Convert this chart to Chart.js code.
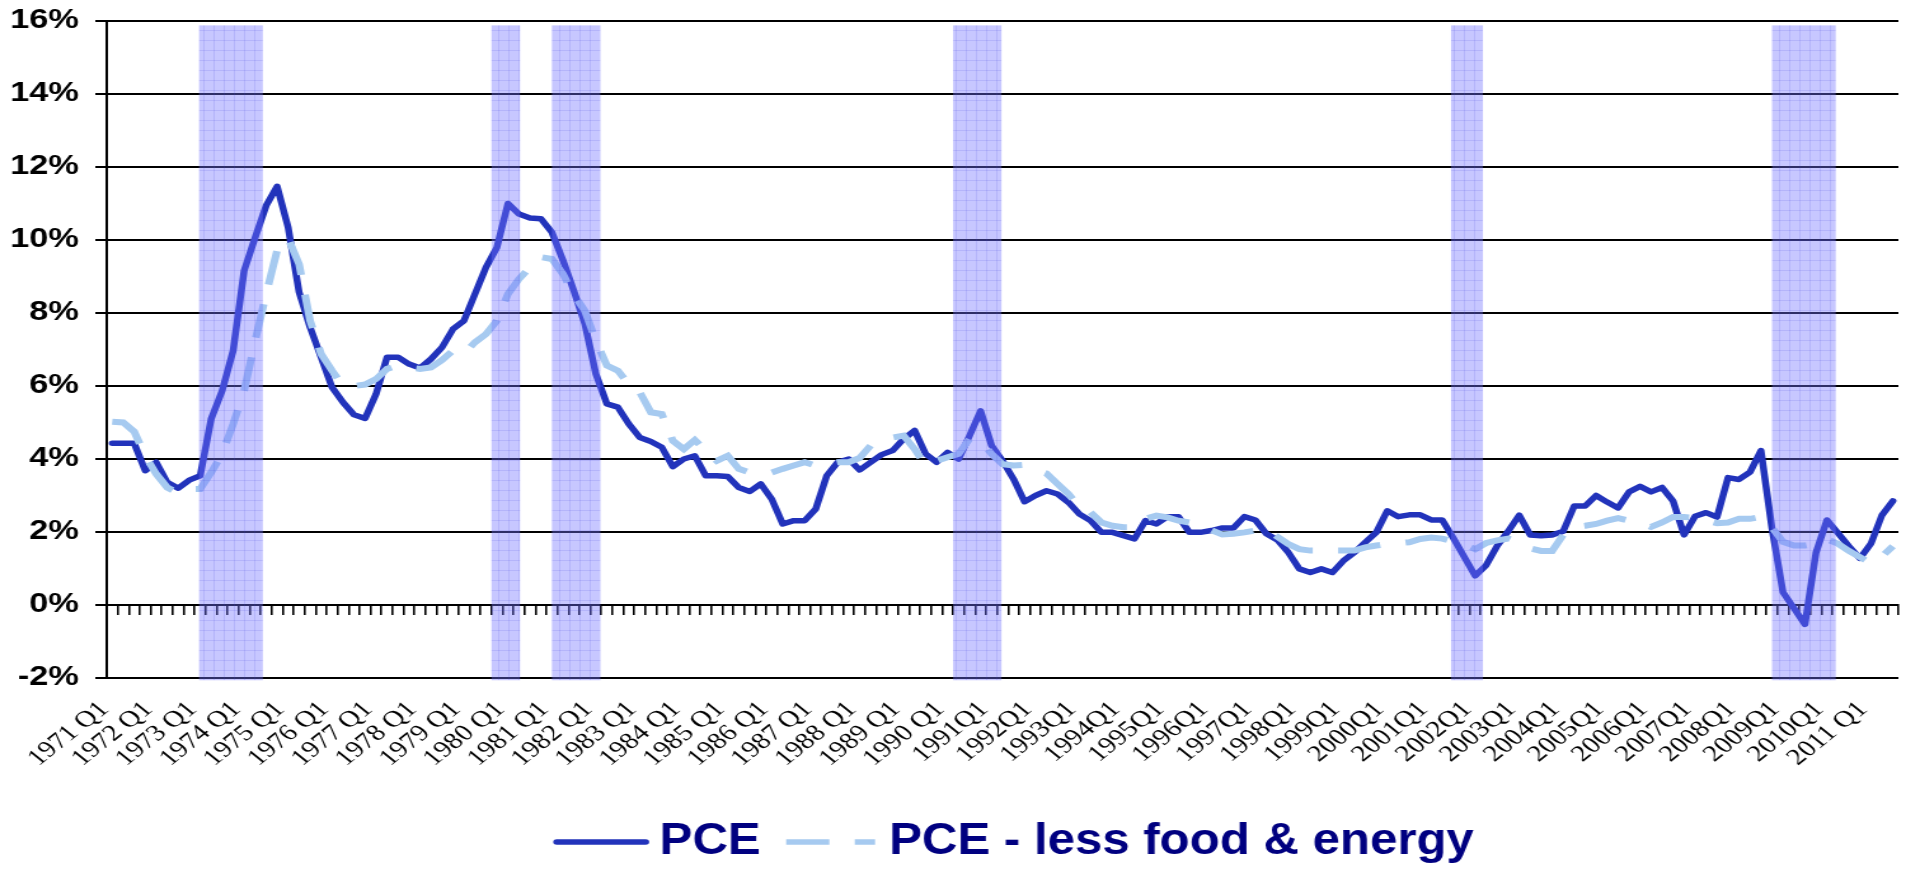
<!DOCTYPE html>
<html>
<head>
<meta charset="utf-8">
<title>PCE inflation</title>
<script src="https://cdn.jsdelivr.net/npm/chart.js@4.4.0/dist/chart.umd.min.js"></script>
<style>
  html, body { margin: 0; padding: 0; background: #fff; }
</style>
</head>
<body>
<!-- drawn on a narrower canvas and stretched to the page width, like the exported spreadsheet chart -->
<canvas id="pceChart" width="1500" height="870" style="width:1906px;height:870px;display:block"></canvas>
<script>
const firstYear = 1971;
const quarterCount = 163;

// one label per year, shown under each Q1
const tickLabels = [
  "1971 Q1", "1972 Q1", "1973 Q1", "1974 Q1", "1975 Q1", "1976 Q1", "1977 Q1",
  "1978 Q1", "1979 Q1", "1980 Q1", "1981 Q1", "1982 Q1", "1983 Q1", "1984 Q1",
  "1985 Q1", "1986 Q1", "1987 Q1", "1988 Q1", "1989 Q1", "1990 Q1", "1991Q1",
  "1992Q1", "1993Q1", "1994Q1", "1995Q1", "1996Q1", "1997Q1", "1998Q1",
  "1999Q1", "2000Q1", "2001Q1", "2002Q1", "2003Q1", "2004Q1", "2005Q1",
  "2006Q1", "2007Q1", "2008Q1", "2009Q1", "2010Q1", "2011 Q1"
];

// PCE, % change from a year earlier (1971 Q1 .. 2011 Q3)
const pce = [
  4.43, 4.43, 4.43, 3.68, 3.91, 3.36, 3.20, 3.42, 3.54, 5.10,
  5.87, 6.97, 9.16, 10.07, 10.94, 11.47, 10.35, 8.57, 7.61, 6.79,
  5.96, 5.55, 5.21, 5.11, 5.78, 6.79, 6.79, 6.60, 6.49, 6.74,
  7.06, 7.56, 7.79, 8.52, 9.25, 9.80, 11.00, 10.71, 10.60, 10.58,
  10.21, 9.45, 8.60, 7.70, 6.33, 5.51, 5.42, 4.96, 4.59, 4.48,
  4.32, 3.79, 4.00, 4.09, 3.54, 3.54, 3.52, 3.22, 3.11, 3.32,
  2.90, 2.22, 2.31, 2.31, 2.63, 3.54, 3.91, 4.00, 3.70, 3.91,
  4.12, 4.23, 4.55, 4.78, 4.14, 3.91, 4.18, 4.00, 4.64, 5.32,
  4.37, 3.95, 3.45, 2.83, 3.00, 3.13, 3.04, 2.81, 2.49, 2.31,
  1.99, 1.99, 1.90, 1.81, 2.31, 2.22, 2.42, 2.42, 1.99, 1.99,
  2.04, 2.11, 2.11, 2.42, 2.33, 1.95, 1.78, 1.44, 0.99, 0.89,
  0.99, 0.89, 1.21, 1.44, 1.72, 1.99, 2.58, 2.42, 2.47, 2.47,
  2.33, 2.33, 1.84, 1.32, 0.80, 1.09, 1.62, 2.02, 2.46, 1.92,
  1.90, 1.92, 2.02, 2.71, 2.71, 3.00, 2.82, 2.66, 3.10, 3.25,
  3.10, 3.22, 2.85, 1.92, 2.43, 2.53, 2.41, 3.49, 3.44, 3.64,
  4.23, 2.10, 0.35, -0.09, -0.53, 1.43, 2.33, 1.97, 1.61, 1.28,
  1.68, 2.46, 2.85
];

// PCE less food & energy
const pceCore = [
  5.02, 5.00, 4.75, 4.09, 3.59, 3.22, 3.07, 3.18, 3.18, 3.63,
  4.14, 4.96, 5.87, 7.24, 8.52, 9.71, 10.05, 9.34, 7.79, 6.88,
  6.42, 6.00, 6.00, 6.04, 6.19, 6.47, 6.56, 6.51, 6.47, 6.51,
  6.71, 6.97, 6.88, 7.20, 7.42, 7.79, 8.52, 8.93, 9.25, 9.53,
  9.48, 9.07, 8.50, 8.06, 7.24, 6.56, 6.42, 6.05, 5.83, 5.28,
  5.23, 4.50, 4.27, 4.52, 4.23, 3.95, 4.09, 3.73, 3.63, 3.63,
  3.63, 3.73, 3.82, 3.91, 3.82, 3.86, 3.91, 3.91, 4.03, 4.37,
  4.50, 4.59, 4.64, 4.27, 3.82, 3.95, 4.05, 4.14, 4.55, 4.50,
  4.14, 3.86, 3.82, 3.84, 3.70, 3.60, 3.32, 3.04, 2.68, 2.54,
  2.26, 2.17, 2.13, 2.13, 2.36, 2.45, 2.40, 2.31, 2.26, 2.22,
  2.05, 1.93, 1.95, 1.99, 2.04, 2.08, 1.87, 1.67, 1.53, 1.49,
  1.49, 1.49, 1.49, 1.49, 1.58, 1.63, 1.67, 1.69, 1.72, 1.81,
  1.85, 1.82, 1.74, 1.65, 1.53, 1.70, 1.77, 1.82, 1.71, 1.55,
  1.48, 1.48, 1.92, 2.14, 2.17, 2.22, 2.31, 2.38, 2.31, 2.26,
  2.14, 2.26, 2.41, 2.41, 2.39, 2.31, 2.24, 2.26, 2.36, 2.36,
  2.41, 2.12, 1.73, 1.63, 1.63, 1.68, 1.80, 1.68, 1.48, 1.31,
  1.14, 1.33, 1.61
];

// shaded recession periods, in quarters from the start of 1971
const recessionStart = [8.4, 35.0, 40.5, 77.0, 122.3, 151.5];
const recessionEnd = [14.2, 37.6, 44.9, 81.4, 125.2, 157.3];

const quarters = [];
for (let i = 0; i < quarterCount; i++) {
  quarters.push(firstYear + Math.floor(i / 4) + " Q" + ((i % 4) + 1));
}

function bandPattern(ctx) {
  const tile = document.createElement("canvas");
  tile.width = 8;
  tile.height = 10;
  const t = tile.getContext("2d");
  t.fillStyle = "rgba(115,115,255,0.40)";
  t.fillRect(0, 0, 8, 10);
  t.fillStyle = "rgba(70,70,220,0.15)";
  t.fillRect(0, 0, 8, 1);
  t.fillRect(0, 0, 1, 10);
  return ctx.createPattern(tile, "repeat");
}

// recession bars are painted over the lines
const recessionBands = {
  id: "recessionBands",
  afterDatasetsDraw(chart) {
    const { ctx, scales: { x, y } } = chart;
    const top = y.getPixelForValue(15.88);
    const bottom = y.getPixelForValue(-2.06);
    ctx.save();
    ctx.fillStyle = bandPattern(ctx);
    for (let i = 0; i < recessionStart.length; i++) {
      const left = x.getPixelForValue(recessionStart[i] - 0.5);
      const right = x.getPixelForValue(recessionEnd[i] - 0.5);
      ctx.fillRect(left, top, right - left, bottom - top);
    }
    ctx.restore();
  },
};

// legend in a narrow bold face, centred under the plot
const bottomLegend = {
  id: "bottomLegend",
  afterDraw(chart) {
    const { ctx, chartArea } = chart;
    const squeeze = 0.86;
    const sample = 70;
    const textGap = 11;
    const itemGap = 20;
    ctx.save();
    ctx.font = "bold 45px 'Liberation Sans', Arial, sans-serif";
    const items = chart.data.datasets.map((ds) => ({
      ds,
      w: ctx.measureText(ds.label).width * squeeze,
    }));
    let total = itemGap * (items.length - 1);
    items.forEach((it) => (total += sample + textGap + it.w));
    let x = (chartArea.left + chartArea.right) / 2 - total / 2 + 10;
    const y = chart.height - 28;
    items.forEach((it) => {
      ctx.beginPath();
      ctx.setLineDash(it.ds.borderDash || []);
      ctx.lineCap = it.ds.borderDash ? "butt" : "round";
      ctx.strokeStyle = it.ds.borderColor;
      ctx.lineWidth = 5.5;
      ctx.moveTo(x, y);
      ctx.lineTo(x + sample, y);
      ctx.stroke();
      x += sample + textGap;
      ctx.save();
      ctx.translate(x, y);
      ctx.scale(squeeze, 1);
      ctx.fillStyle = "#000080";
      ctx.textBaseline = "middle";
      ctx.fillText(it.ds.label, 0, 0);
      ctx.restore();
      x += it.w + itemGap;
    });
    ctx.restore();
  },
};

const ctx = document.getElementById("pceChart");
const pceChart = new Chart(ctx, {
  type: "line",
  data: {
    labels: quarters,
    datasets: [
      {
        label: "PCE",
        data: pce,
        borderColor: "#2233bb",
        backgroundColor: "#2233bb",
        borderWidth: 5.5,
        borderCapStyle: "round",
        borderJoinStyle: "round",
        pointRadius: 0,
        tension: 0,
        order: 1,
      },
      {
        label: "PCE - less food & energy",
        data: pceCore,
        borderColor: "#a6caf0",
        backgroundColor: "#a6caf0",
        borderWidth: 6,
        borderDash: [34, 20],
        pointRadius: 0,
        tension: 0,
        order: 0,
      },
    ],
  },
  options: {
    responsive: false,
    devicePixelRatio: 1,
    animation: false,
    layout: { padding: { left: 8, right: 6, top: 21, bottom: 92 } },
    plugins: {
      tooltip: { enabled: false },
      legend: { display: false },
    },
    scales: {
      x: {
        type: "category",
        position: { y: 0 },
        offset: true,
        grid: {
          offset: true,
          drawOnChartArea: false,
          drawTicks: true,
          tickLength: 9,
          color: "#000",
          lineWidth: 1.6,
        },
        border: { color: "#000", width: 2 },
        ticks: { display: false, autoSkip: false },
      },
      x2: {
        type: "category",
        labels: quarters,
        position: "bottom",
        offset: true,
        grid: { display: false, drawTicks: false },
        border: { display: false },
        ticks: {
          autoSkip: false,
          minRotation: 45,
          maxRotation: 45,
          padding: 18,
          labelOffset: -6,
          color: "#000",
          font: { family: "Liberation Serif", size: 23 },
          callback: (v, i) => (i % 4 === 0 ? tickLabels[i / 4] : ""),
        },
        afterFit(scale) {
          scale.paddingLeft = 0;
          scale.paddingRight = 0;
          scale.height = 100;
        },
      },
      y: {
        min: -2,
        max: 16,
        ticks: {
          stepSize: 2,
          padding: 13,
          color: "#000",
          font: { family: "Liberation Sans", size: 27, weight: "bold" },
          callback: (v) => v + "%",
        },
        grid: { color: "#000", lineWidth: 2, tickLength: 9 },
        border: { color: "#000", width: 2 },
        afterFit(scale) {
          scale.width = 76;
          scale.paddingTop = 0;
          scale.paddingBottom = 0;
        },
      },
    },
  },
  plugins: [recessionBands, bottomLegend],
});
</script>
</body>
</html>
